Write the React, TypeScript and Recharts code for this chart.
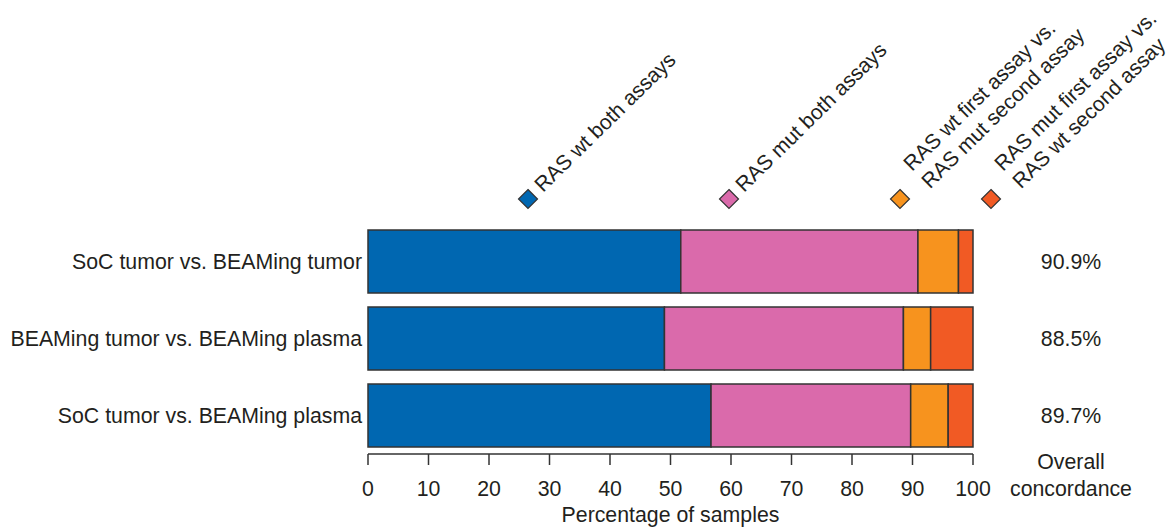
import React from 'react';
import { BarChart, Bar, XAxis, YAxis, Legend, Label } from 'recharts';

const FONT = '"Liberation Sans", Arial, Helvetica, sans-serif';
const TEXT = '#231f20';
const EDGE = '#333333';
const FS = 21.3;
const LFS = 21;

const categories = [
  'SoC tumor vs. BEAMing tumor',
  'BEAMing tumor vs. BEAMing plasma',
  'SoC tumor vs. BEAMing plasma',
];
const wtBoth = [51.7, 49.0, 56.7];
const mutBoth = [39.2, 39.5, 33.0];
const wtMut = [6.7, 4.5, 6.2];
const mutWt = [2.4, 7.0, 4.1];
const concordance = ['90.9%', '88.5%', '89.7%'];
const xTicks = [0, 10, 20, 30, 40, 50, 60, 70, 80, 90, 100];

const seriesKeys = ['wtBoth', 'mutBoth', 'wtMut', 'mutWt'];
const seriesColors = ['#0067b1', '#da6aab', '#f7931e', '#f15a24'];
const seriesLabels = [
  ['RAS wt both assays'],
  ['RAS mut both assays'],
  ['RAS wt first assay vs.', 'RAS mut second assay'],
  ['RAS mut first assay vs.', 'RAS wt second assay'],
];
const legendX = [528, 729, 900, 991];

const data = categories.map((name, i) => ({
  name,
  conc: concordance[i],
  wtBoth: wtBoth[i],
  mutBoth: mutBoth[i],
  wtMut: wtMut[i],
  mutWt: mutWt[i],
}));

const LegendContent = () => {
  const dy = 199;
  const ang = -44.5;
  return (
    <svg width={1170} height={222} style={{ display: 'block' }}>
      {seriesKeys.map((k, i) => {
        const cx = legendX[i];
        const lines = seriesLabels[i];
        const d = 9.5;
        return (
          <g key={k}>
            <polygon
              points={`${cx},${dy - d} ${cx + d},${dy} ${cx},${dy + d} ${cx - d},${dy}`}
              fill={seriesColors[i]}
              stroke={EDGE}
              strokeWidth={1.2}
            />
            {lines.length === 1 ? (
              <text
                x={cx + 15}
                y={dy - 6}
                transform={`rotate(${ang} ${cx + 15} ${dy - 6})`}
                fontSize={LFS}
                fontFamily={FONT}
                fill={TEXT}
              >
                {lines[0]}
              </text>
            ) : (
              lines.map((ln, j) => {
                const tx = cx + 12 + j * 18;
                const ty = dy - 27 + j * 17.5;
                return (
                  <text
                    key={j}
                    x={tx}
                    y={ty}
                    transform={`rotate(${ang} ${tx} ${ty})`}
                    fontSize={LFS}
                    fontFamily={FONT}
                    fill={TEXT}
                  >
                    {ln}
                  </text>
                );
              })
            )}
          </g>
        );
      })}
    </svg>
  );
};

const ConcTick = (props: any) => {
  const { x, y, payload } = props;
  return (
    <text x={x + 98} y={y} dy="0.35em" textAnchor="middle" fontSize={FS} fontFamily={FONT} fill={TEXT}>
      {payload.value}
    </text>
  );
};

const ConcLabel = (props: any) => {
  const vb = props.viewBox || {};
  const cx = (vb.x || 0) + 98;
  const base = (vb.y || 0) + (vb.height || 0);
  return (
    <g>
      <text x={cx} y={base + 15} textAnchor="middle" fontSize={FS} fontFamily={FONT} fill={TEXT}>
        Overall
      </text>
      <text x={cx} y={base + 42} textAnchor="middle" fontSize={FS} fontFamily={FONT} fill={TEXT}>
        concordance
      </text>
    </g>
  );
};

const XLabel = (props: any) => {
  const vb = props.viewBox || {};
  return (
    <text
      x={(vb.x || 0) + (vb.width || 0) / 2}
      y={(vb.y || 0) + 68}
      textAnchor="middle"
      fontSize={FS}
      fontFamily={FONT}
      fill={TEXT}
    >
      Percentage of samples
    </text>
  );
};

export default function App() {
  return (
    <div style={{ position: 'absolute', left: 0, top: 0, width: 1170, height: 527, background: '#fff' }}>
      <BarChart
        width={1170}
        height={527}
        data={data}
        layout="vertical"
        margin={{ top: 223, right: 0, bottom: 0, left: 0 }}
      >
        <XAxis
          type="number"
          domain={[0, 100]}
          ticks={xTicks}
          interval={0}
          tickSize={11}
          tickMargin={16}
          axisLine={{ stroke: EDGE, strokeWidth: 1.5 }}
          tickLine={{ stroke: EDGE, strokeWidth: 1.5 }}
          tick={{ fontSize: FS, fill: TEXT, fontFamily: FONT }}
          height={73}
        >
          <Label content={<XLabel />} />
        </XAxis>
        <YAxis
          yAxisId="left"
          type="category"
          dataKey="name"
          width={368}
          axisLine={false}
          tickLine={false}
          tickSize={0}
          tickMargin={6}
          interval={0}
          tick={{ fontSize: FS, fill: TEXT, fontFamily: FONT }}
        />
        <YAxis
          yAxisId="right"
          orientation="right"
          type="category"
          dataKey="conc"
          width={197}
          axisLine={false}
          tickLine={false}
          tickSize={0}
          tickMargin={0}
          interval={0}
          tick={<ConcTick />}
        >
          <Label content={<ConcLabel />} />
        </YAxis>
        <Legend
          verticalAlign="middle"
          align="center"
          layout="horizontal"
          wrapperStyle={{ position: 'absolute', top: 0, left: 0, width: 1170, height: 222 }}
          content={<LegendContent />}
        />
        {seriesKeys.map((k, i) => (
          <Bar
            key={k}
            yAxisId="left"
            dataKey={k}
            stackId="a"
            fill={seriesColors[i]}
            stroke={EDGE}
            strokeWidth={1.5}
            barSize={63}
            isAnimationActive={false}
          />
        ))}
      </BarChart>
    </div>
  );
}
